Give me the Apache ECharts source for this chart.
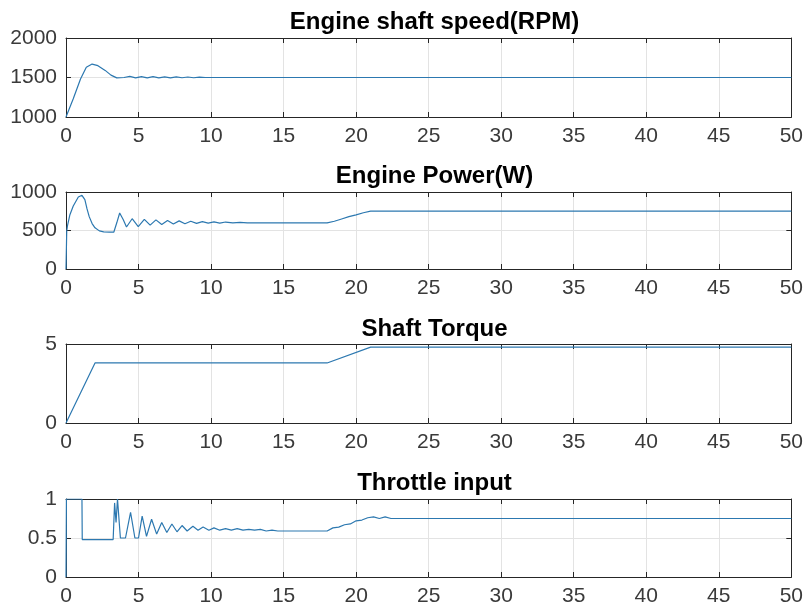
<!DOCTYPE html>
<html>
<head>
<meta charset="utf-8">
<script src="https://cdn.jsdelivr.net/npm/echarts@6/dist/echarts.min.js"></script>
<style>
  html, body { margin: 0; padding: 0; background: #fff; }
  #chart { width: 806px; height: 613px; }
</style>
</head>
<body>
<div id="chart"></div>
<script>
// subplot titles
const titles = ['Engine shaft speed(RPM)', 'Engine Power(W)', 'Shaft Torque', 'Throttle input'];

// engine shaft speed (RPM)
const speedT = [0, 0.5, 1.0, 1.4, 1.8, 2.2, 2.7, 3.1, 3.5, 4.0, 4.4, 4.8, 5.2, 5.6, 6.0, 6.4, 6.8, 7.2, 7.6, 8.0, 8.4, 8.8, 9.2, 9.6, 10, 50];
const speedV = [1000, 1230, 1480, 1630, 1670, 1650, 1590, 1530, 1495, 1500, 1515, 1495, 1512, 1495, 1510, 1496, 1508, 1496, 1508, 1497, 1506, 1497, 1505, 1500, 1500, 1500];

// engine power (W)
const powerT = [0, 0.05, 0.1, 0.27, 0.5, 0.85, 1.1, 1.2, 1.3, 1.45, 1.6, 1.8, 2.0, 2.3, 2.6, 3.0, 3.3, 3.5, 3.7, 3.95, 4.17, 4.56, 4.98, 5.4, 5.8, 6.2, 6.6, 7.0, 7.4, 7.8, 8.2, 8.6, 9.0, 9.4, 9.8, 10.2, 10.6, 11.0, 11.5, 12.0, 12.5, 18.0, 18.5, 19.0, 19.5, 20.0, 20.5, 21.0, 50];
const powerV = [0, 490, 560, 705, 818, 935, 957, 945, 900, 780, 680, 590, 535, 495, 482, 480, 480, 600, 727, 640, 545, 653, 550, 645, 570, 638, 578, 630, 585, 625, 588, 620, 592, 615, 595, 612, 596, 610, 600, 606, 600, 600, 620, 650, 680, 702, 730, 752, 752];

// shaft torque
const torqueT = [0, 2, 18, 21, 50];
const torqueV = [0, 3.8, 3.8, 4.8, 4.8];

// throttle input
const throttleT = [0, 0.03, 1.1, 1.12, 3.25, 3.35, 3.45, 3.55, 3.75, 4.1, 4.45, 4.75, 5.0, 5.25, 5.55, 5.9, 6.25, 6.6, 6.95, 7.3, 7.65, 8.0, 8.35, 8.75, 9.1, 9.45, 9.85, 10.2, 10.6, 11.0, 11.4, 11.8, 12.2, 12.6, 13.0, 13.4, 13.8, 14.2, 14.6, 15.0, 18.0, 18.4, 18.8, 19.2, 19.6, 20.0, 20.4, 20.8, 21.2, 21.6, 22.0, 22.4, 22.8, 50];
const throttleV = [0, 1, 1, 0.48, 0.48, 0.95, 0.7, 1.0, 0.5, 0.5, 0.83, 0.5, 0.5, 0.78, 0.52, 0.74, 0.55, 0.7, 0.57, 0.68, 0.58, 0.66, 0.59, 0.65, 0.6, 0.64, 0.6, 0.63, 0.6, 0.62, 0.6, 0.62, 0.6, 0.61, 0.6, 0.61, 0.59, 0.6, 0.59, 0.59, 0.59, 0.63, 0.64, 0.67, 0.68, 0.72, 0.73, 0.76, 0.77, 0.75, 0.77, 0.75, 0.75, 0.75];

// y ranges
const yMins = [1000, 0, 0, 0];
const yMaxs = [2000, 1000, 5, 1];
const yIntervals = [500, 500, 5, 0.5];

const xMin = 0, xMax = 50, xInterval = 5;

// layout (pixels)
const plotLeft = 66, plotRight = 13;
const plotTops = [38, 192, 344, 499];
const plotHeights = [79, 77, 79, 78];
const titleTops = [5, 159, 312, 466];

const FONT = '"Liberation Sans", Arial, sans-serif';
const axisColor = '#262626';
const lineColor = '#2c78b0';

const pairs = (ts, vs) => ts.map((t, i) => [t, vs[i]]);
const seriesData = [
  pairs(speedT, speedV),
  pairs(powerT, powerV),
  pairs(torqueT, torqueV),
  pairs(throttleT, throttleV),
];

const grid = [], xAxis = [], yAxis = [], series = [], title = [];

for (let i = 0; i < 4; i++) {
  grid.push({ left: plotLeft, right: plotRight, top: plotTops[i], height: plotHeights[i] });

  title.push({
    text: titles[i],
    left: plotLeft + (806 - plotLeft - plotRight) / 2,
    textAlign: 'center',
    top: titleTops[i],
    textStyle: { fontFamily: FONT, fontSize: 24, fontWeight: 'bold', color: '#000' },
  });

  // bottom axis with labels + top axis for the box
  ['bottom', 'top'].forEach((pos) => {
    xAxis.push({
      type: 'value',
      gridIndex: i,
      position: pos,
      min: xMin,
      max: xMax,
      interval: xInterval,
      axisLine: { show: true, onZero: false, lineStyle: { color: axisColor, width: 1 } },
      axisTick: { show: true, inside: true, length: 5, lineStyle: { color: axisColor } },
      axisLabel: {
        show: pos === 'bottom',
        margin: 9,
        fontFamily: FONT,
        fontSize: 21,
        color: '#3a3a3a',
        formatter: (v) => String(v),
      },
      splitLine: { show: pos === 'bottom', lineStyle: { color: '#e3e3e3', width: 1 } },
    });
  });

  ['left', 'right'].forEach((pos) => {
    yAxis.push({
      type: 'value',
      gridIndex: i,
      position: pos,
      min: yMins[i],
      max: yMaxs[i],
      interval: yIntervals[i],
      axisLine: { show: true, onZero: false, lineStyle: { color: axisColor, width: 1 } },
      axisTick: { show: true, inside: true, length: 5, lineStyle: { color: axisColor } },
      axisLabel: {
        show: pos === 'left',
        margin: 9,
        fontFamily: FONT,
        fontSize: 21,
        color: '#3a3a3a',
        formatter: (v) => String(v),
      },
      splitLine: { show: pos === 'left', lineStyle: { color: '#e3e3e3', width: 1 } },
    });
  });

  series.push({
    type: 'line',
    xAxisIndex: i * 2,
    yAxisIndex: i * 2,
    data: seriesData[i],
    showSymbol: false,
    symbol: 'none',
    lineStyle: { color: lineColor, width: 1.2 },
    z: 3,
  });
}

const chart = echarts.init(document.getElementById('chart'), null, { renderer: 'canvas' });
chart.setOption({
  animation: false,
  backgroundColor: '#fff',
  title,
  grid,
  xAxis,
  yAxis,
  series,
});
</script>
</body>
</html>
